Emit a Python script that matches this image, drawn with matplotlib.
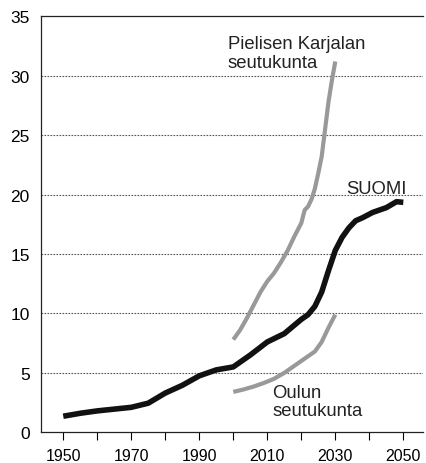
import matplotlib
matplotlib.use("Agg")
import matplotlib.pyplot as plt
from matplotlib.ticker import MultipleLocator

plt.rcParams['font.family'] = ['Liberation Sans', 'DejaVu Sans']

# SUOMI
suomi_years = [1950, 1955, 1960, 1965, 1970, 1975, 1980, 1985, 1990, 1995,
               2000, 2005, 2010, 2015, 2020, 2022, 2024, 2026, 2028, 2030,
               2032, 2034, 2036, 2038, 2041, 2045, 2048, 2050]
suomi_vals = [1.35, 1.6, 1.8, 1.95, 2.1, 2.45, 3.3, 3.95, 4.75, 5.25,
              5.5, 6.5, 7.6, 8.3, 9.5, 9.9, 10.6, 11.8, 13.6, 15.3,
              16.4, 17.2, 17.8, 18.05, 18.5, 18.9, 19.4, 19.35]

# Pielisen Karjalan seutukunta
pk_years = [2000, 2002, 2004, 2006, 2008, 2010, 2012, 2014, 2016, 2018,
            2020, 2021, 2022, 2023, 2024, 2025, 2026, 2027, 2028, 2029, 2030]
pk_vals = [7.8, 8.6, 9.6, 10.7, 11.8, 12.7, 13.4, 14.3, 15.3, 16.5,
           17.6, 18.7, 19.0, 19.6, 20.5, 21.8, 23.2, 25.5, 27.8, 29.6, 31.2]

# Oulun seutukunta
ou_years = [2000, 2003, 2006, 2009, 2012, 2015, 2018, 2020, 2022, 2024,
            2026, 2028, 2030]
ou_vals = [3.4, 3.6, 3.85, 4.15, 4.5, 5.0, 5.6, 6.0, 6.4, 6.8,
           7.6, 8.8, 9.9]

fig = plt.figure(figsize=(4.26, 4.64), dpi=100)
ax = fig.add_axes([0.0974, 0.0662, 0.8956, 0.8965])

gray = "#999999"
ax.plot(pk_years, pk_vals, color=gray, lw=3.0, solid_capstyle='butt')
ax.plot(ou_years, ou_vals, color=gray, lw=3.0, solid_capstyle='butt')
ax.plot(suomi_years, suomi_vals, color="#111111", lw=4.0, solid_capstyle='butt')

ax.set_xlim(1943.6, 2055.8)
ax.set_ylim(0, 35)

for yv in range(5, 35, 5):
    ax.axhline(yv, color="#555555", lw=0.8, linestyle=(0, (1.5, 1.2)), zorder=0)

ax.set_xticks(range(1950, 2051, 20))
ax.xaxis.set_minor_locator(MultipleLocator(10))
ax.set_yticks(range(0, 36, 5))
ax.tick_params(axis='x', which='both', direction='out', length=6, width=0.8,
               labelsize=11.5, pad=5)
ax.tick_params(axis='y', length=0, labelsize=12.5, pad=8.5)

ax.spines['right'].set_visible(False)
for s in ['left', 'top', 'bottom']:
    ax.spines[s].set_linewidth(0.9)
    ax.spines[s].set_color("#222222")

ax.text(1998.4, 33.4, "Pielisen Karjalan\nseutukunta", fontsize=13.3,
        color="#222222", ha='left', va='top', linespacing=1.1)
ax.text(2033.1, 20.1, "SUOMI", fontsize=13.3, color="#222222",
        ha='left', va='baseline')
ax.text(2011.4, 4.05, "Oulun\nseutukunta", fontsize=13.3, color="#222222",
        ha='left', va='top', linespacing=1.05)

fig.savefig("out.png", dpi=100)
